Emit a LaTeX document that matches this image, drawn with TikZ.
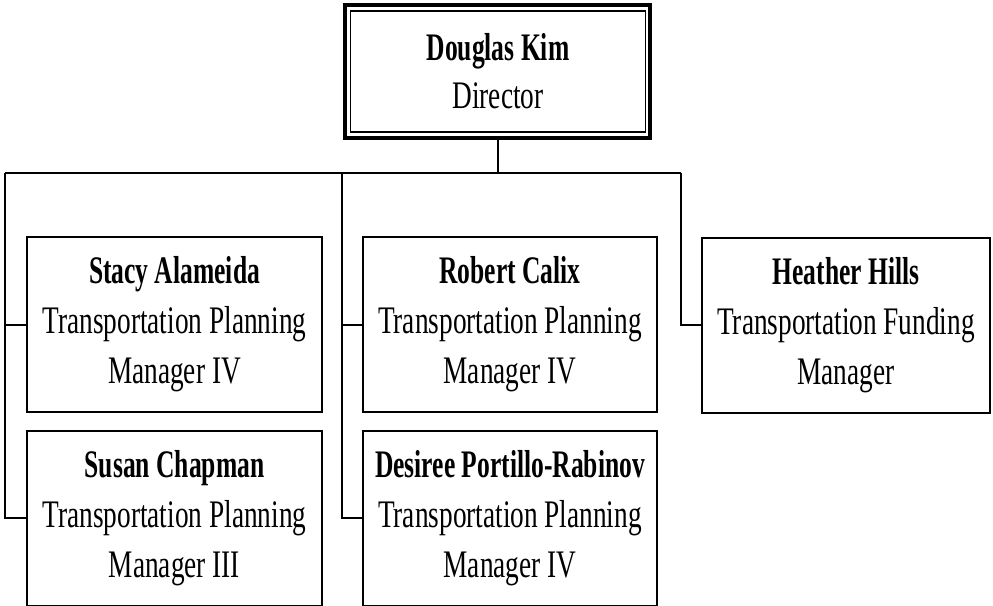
\documentclass[tikz,border=0pt]{standalone}
\usepackage{fontspec}
\setmainfont{Liberation Serif}[FakeStretch=0.70]
\newfontfamily\namefont{Liberation Serif}[FakeStretch=0.655]
\begin{document}
\begin{tikzpicture}[x=1pt,y=-1pt,
  every node/.style={inner sep=0pt, outer sep=0pt},
  txt/.style={font=\fontsize{39}{50}\selectfont, align=center},
  dirtxt/.style={font=\fontsize{39}{48}\selectfont, align=center},
  staffbox/.style={draw, line width=2pt, minimum width=#1, minimum height=175},
  staffbox/.default=295,
  conn/.style={line width=2pt}]
\useasboundingbox (0,0) rectangle (993,605);
% director
\node[draw, line width=3.8pt, minimum width=305, minimum height=133] (dir) at (497.5,71.5) {};
\node[draw, line width=1.8pt, minimum width=295, minimum height=121] (dirin) at (498,71.5) {};
\node[dirtxt] (dirt) at (498,71) {{\namefont\bfseries Douglas Kim}\\Director};
% staff boxes
\node[staffbox] (stacy) at (174.5,324.5) {};
\node[txt] at (stacy) {{\namefont\bfseries Stacy Alameida}\\Transportation Planning\\Manager IV};
\node[staffbox] (susan) at (174.5,518) {};
\node[txt] at (susan) {{\namefont\bfseries Susan Chapman}\\Transportation Planning\\Manager III};
\node[staffbox=294] (robert) at (510,324.5) {};
\node[txt] at (robert) {{\namefont\bfseries Robert Calix}\\Transportation Planning\\Manager IV};
\node[staffbox=294] (desiree) at (510,518) {};
\node[txt] at (desiree) {{\namefont\bfseries Desiree Portillo-Rabinov}\\Transportation Planning\\Manager IV};
\node[staffbox=288] (heather) at (846,325) {};
\node[txt] at (heather) {{\namefont\bfseries Heather Hills}\\Transportation Funding\\Manager};
% bus
\coordinate (busL) at (5,173);
\coordinate (busM) at (342,173);
\coordinate (busR) at (681,173);
\draw[conn] (dir.south) -- (dir.south |- busL);
\draw[conn] (busL) -- (busR);
\draw[conn] (busL) |- (stacy.west);
\draw[conn] (busL) |- (susan.west);
\draw[conn] (busM) |- (robert.west);
\draw[conn] (busM) |- (desiree.west);
\draw[conn] (busR) |- (heather.west);
\end{tikzpicture}
\end{document}
